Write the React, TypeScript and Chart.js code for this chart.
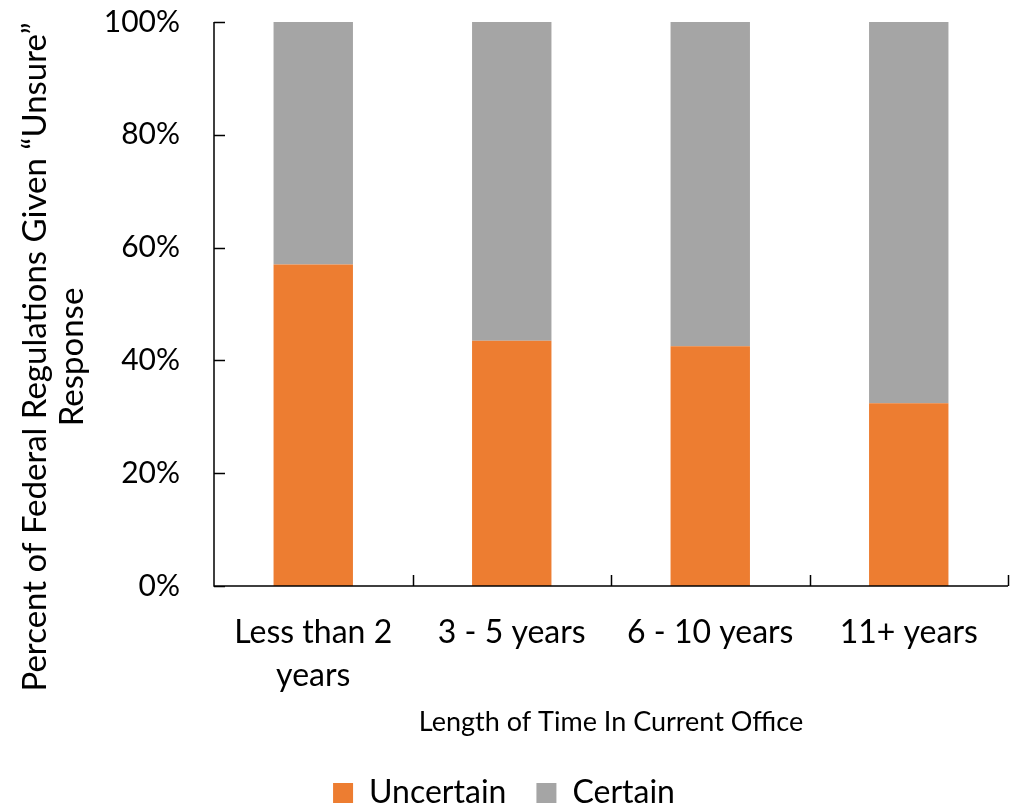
import React, { useEffect, useRef } from "react";
import { Chart, registerables } from "chart.js";

Chart.register(...registerables);

const categories: (string | string[])[] = [["Less than 2", "years"], "3 - 5 years", "6 - 10 years", "11+ years"];
const uncertain = [57.0, 43.5, 42.5, 32.4];
const certain = [43.0, 56.5, 57.5, 67.6];
const yTicks = [0, 20, 40, 60, 80, 100];
const yTitleLines = ["Percent of Federal Regulations Given \u201cUnsure\u201d", "Response"];

const FONT = "Lato";

const innerTicks = {
  id: "innerTicks",
  afterDatasetsDraw(chart: any) {
    const { ctx, chartArea, scales } = chart;
    const x = scales.x;
    const y = scales.y;
    ctx.save();
    ctx.strokeStyle = "#000";
    ctx.lineWidth = 1.5;
    ctx.beginPath();
    ctx.moveTo(chartArea.left, chartArea.top);
    ctx.lineTo(chartArea.left, chartArea.bottom);
    ctx.lineTo(chartArea.right, chartArea.bottom);
    yTicks.forEach((v) => {
      const py = Math.round(y.getPixelForValue(v)) + 0.5;
      ctx.moveTo(chartArea.left, py);
      ctx.lineTo(chartArea.left + 11, py);
    });
    const n = categories.length;
    const half = (x.getPixelForValue(1) - x.getPixelForValue(0)) / 2;
    for (let i = 0; i < n; i++) {
      const px = Math.round(x.getPixelForValue(i) + half) + 0.5;
      ctx.moveTo(px, chartArea.bottom);
      ctx.lineTo(px, chartArea.bottom - 11);
    }
    ctx.stroke();
    ctx.restore();
  },
};

const yTitle = {
  id: "yTitle",
  afterDraw(chart: any) {
    const { ctx } = chart;
    ctx.save();
    ctx.fillStyle = "#000";
    ctx.font = `33px ${FONT}`;
    ctx.textAlign = "center";
    ctx.textBaseline = "middle";
    const cy = 357;
    yTitleLines.forEach((line, i) => {
      ctx.save();
      ctx.translate(35 + i * 37, cy);
      ctx.rotate(-Math.PI / 2);
      ctx.fillText(line, 0, 0);
      ctx.restore();
    });
    ctx.restore();
  },
};

export default function App() {
  const ref = useRef<HTMLCanvasElement | null>(null);
  useEffect(() => {
    document.body.style.margin = "0";
    const chart = new Chart(ref.current as HTMLCanvasElement, {
      type: "bar",
      data: {
        labels: categories as any,
        datasets: [
          { label: "Uncertain", data: uncertain, backgroundColor: "#ED7D31", barPercentage: 0.4, categoryPercentage: 1 },
          { label: "Certain", data: certain, backgroundColor: "#A5A5A5", barPercentage: 0.4, categoryPercentage: 1 },
        ],
      },
      options: {
        animation: false,
        responsive: false,
        maintainAspectRatio: false,
        layout: { padding: { left: 0, right: 10, top: 22, bottom: -9 } },
        plugins: {
          tooltip: { enabled: false },
          legend: {
            position: "bottom",
            labels: {
              boxWidth: 20,
              boxHeight: 20,
              padding: 30,
              color: "#000",
              font: { family: FONT, size: 32 },
            },
          },
        },
        scales: {
          x: {
            stacked: true,
            offset: true,
            grid: { display: false },
            border: { display: false },
            afterFit: (s: any) => {
              s.height = 161;
            },
            ticks: { color: "#000", font: { family: FONT, size: 32, lineHeight: 1.34 }, padding: 17, maxRotation: 0, autoSkip: false },
            title: {
              display: true,
              text: "Length of Time In Current Office",
              color: "#000",
              font: { family: FONT, size: 27, lineHeight: 1.2 },
              padding: { top: 0, bottom: 9 },
            },
          },
          y: {
            stacked: true,
            min: 0,
            max: 100,
            grid: { display: false, tickLength: 34 },
            border: { display: false },
            afterBuildTicks: (s: any) => {
              s.ticks = yTicks.map((v) => ({ value: v }));
            },
            afterFit: (s: any) => {
              s.width = 214;
            },
            ticks: {
              color: "#000",
              font: { family: FONT, size: 30 },
              padding: 0,
              callback: (v: any) => v + "%",
            },
          },
        },
      },
      plugins: [innerTicks, yTitle],
    });
    return () => chart.destroy();
  }, []);
  return (
    <div style={{ width: 1018, height: 810 }}>
      <canvas ref={ref} width={1018} height={810} style={{ display: "block" }} />
    </div>
  );
}
